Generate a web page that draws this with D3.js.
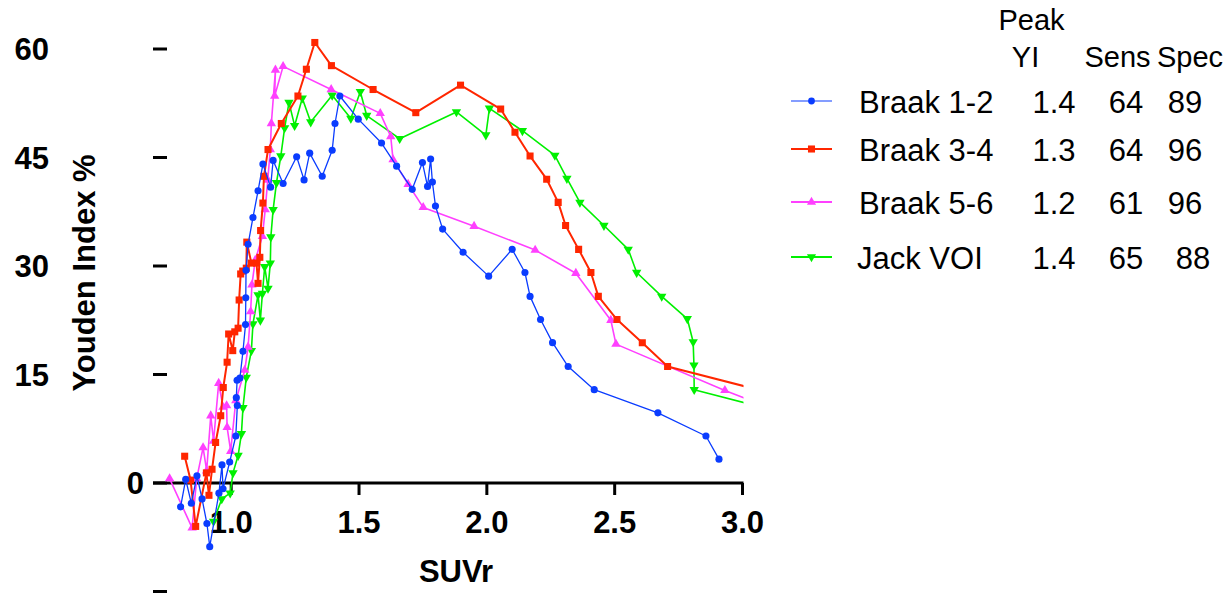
<!DOCTYPE html>
<html>
<head>
<meta charset="utf-8">
<script src="https://cdn.jsdelivr.net/npm/d3@7/dist/d3.min.js"></script>
<style>
  html, body { margin: 0; padding: 0; background: #fff; }
  svg { display: block; }
  text { font-family: "Liberation Sans", Arial, sans-serif; fill: #000; }
</style>
</head>
<body>
<svg id="chart" width="1231" height="595"></svg>
<script>
// ---------------- data ----------------
const suvrTicks = [1.0, 1.5, 2.0, 2.5, 3.0];
const suvrTickLabels = ["1.0", "1.5", "2.0", "2.5", "3.0"];
const yTicks = [60, 45, 30, 15, 0, -15];
const yTickLabels = ["60", "45", "30", "15", "0", ""];

const seriesNames = ["Braak 1-2", "Braak 3-4", "Braak 5-6", "Jack VOI"];
const peakYI = ["1.4", "1.3", "1.2", "1.4"];
const sensVals = ["64", "64", "61", "65"];
const specVals = ["89", "96", "96", "88"];

const braak12X = [0.804,0.824,0.846,0.868,0.888,0.907,0.918,0.954,0.966,0.970,0.996,1.020,1.026,1.022,1.025,1.036,1.048,1.058,1.059,1.060,1.068,1.087,1.107,1.126,1.156,1.166,1.205,1.258,1.287,1.309,1.358,1.397,1.408,1.427,1.499,1.590,1.649,1.710,1.750,1.770,1.782,1.789,1.801,1.829,1.909,2.009,2.101,2.151,2.171,2.212,2.259,2.320,2.422,2.671,2.859,2.910];
const braak12Y = [-3.3,0.5,-2.8,1.0,-2.2,-5.6,-8.8,-1.4,2.5,-0.8,2.9,6.5,10.7,11.8,14.2,14.5,18.2,21.9,25.6,29.4,33.0,36.7,40.4,44.1,40.9,44.6,41.4,45.1,41.9,45.6,42.4,46.0,49.7,53.5,50.3,47.0,43.8,40.6,44.3,41.0,44.8,41.6,38.3,35.1,31.9,28.6,32.3,29.1,25.8,22.6,19.4,16.1,12.9,9.7,6.5,3.3];

const braak34X = [0.820,0.843,0.863,0.905,0.915,0.927,0.941,0.961,0.971,0.986,0.992,1.008,1.016,1.029,1.033,1.039,1.047,1.061,1.063,1.081,1.101,1.107,1.114,1.117,1.126,1.130,1.146,1.198,1.263,1.296,1.329,1.394,1.557,1.724,1.899,2.056,2.112,2.171,2.236,2.281,2.310,2.361,2.409,2.438,2.511,2.610,2.709,3.250];
const braak34Y = [3.7,0.4,-6.0,1.4,-1.7,1.9,5.6,9.3,13.2,16.7,20.6,18.3,20.9,21.4,25.3,28.9,29.3,29.7,33.3,30.4,30.4,27.6,31.2,34.9,38.7,42.4,46.1,49.7,53.5,57.2,60.9,57.7,54.4,51.2,55.0,51.7,48.5,45.2,42.0,38.8,35.6,32.3,29.1,25.8,22.6,19.4,16.1,11.2];

const braak56X = [0.761,0.849,0.867,0.892,0.906,0.922,0.933,0.953,0.970,0.984,0.986,1.000,1.020,1.055,1.068,1.078,1.083,1.096,1.124,1.135,1.145,1.155,1.159,1.175,1.172,1.205,1.393,1.585,1.626,1.635,1.694,1.753,1.952,2.191,2.350,2.487,2.507,2.933,3.100];
const braak56Y = [0.6,-6.2,0.6,4.9,1.7,9.3,5.8,13.8,10.5,10.7,7.7,4.4,11.4,15.6,18.8,23.7,27.4,30.8,34.1,37.8,41.9,46.1,49.7,57.1,53.5,57.6,54.4,51.1,47.9,44.7,41.3,38.1,35.5,32.2,29.0,22.5,19.2,12.8,10.5];

const jackX = [0.933,0.965,0.998,1.009,1.029,1.042,1.048,1.061,1.081,1.087,1.107,1.116,1.124,1.133,1.146,1.155,1.157,1.166,1.179,1.196,1.211,1.228,1.250,1.280,1.313,1.397,1.470,1.507,1.532,1.661,1.883,1.998,2.012,2.141,2.268,2.315,2.366,2.460,2.555,2.588,2.686,2.786,2.809,2.812,2.813,3.150];
const jackY = [-5.3,-2.2,-1.4,1.4,3.8,6.8,10.4,14.6,18.3,22.0,26.0,22.5,26.2,29.9,26.9,30.4,34.0,37.8,41.5,45.2,49.1,52.6,49.4,53.2,49.9,53.6,50.4,54.1,50.8,47.6,51.3,48.1,51.8,48.7,45.3,42.1,38.8,35.6,32.3,29.1,25.8,22.7,19.5,16.3,12.9,9.8];

const colors = ["#0A3CFF", "#FF2600", "#FF40FF", "#00F000"];
const lineWidths = [1.3, 2, 1.6, 1.6];
const symbolsList = [d3.symbolCircle, d3.symbolSquare, d3.symbolTriangle, d3.symbolTriangle];
const symbolSizes = [40, 50, 38, 38];
const symbolRot = [0, 0, 0, 180];

// ---------------- chart ----------------
const svg = d3.select("#chart");
const x = d3.scaleLinear().domain([0.7, 3.0]).range([154, 742]);
const y = d3.scaleLinear().domain([-15, 60]).range([591.5, 49]);
const font = '"Liberation Sans", Arial, sans-serif';

svg.append("defs").append("clipPath").attr("id", "clip")
  .append("rect").attr("x", 0).attr("y", 0).attr("width", 743.5).attr("height", 595);

// x axis (at y = 0)
const xAxis = d3.axisBottom(x).tickValues(suvrTicks)
  .tickFormat((d, i) => suvrTickLabels[i]).tickSize(12).tickSizeOuter(0);
const gx = svg.append("g").attr("transform", `translate(0,${y(0)})`).call(xAxis);
gx.select(".domain").attr("stroke", "#000").attr("stroke-width", 3)
  .attr("d", `M${x(0.7) - 1},0H${x(3.0) + 1.5}`);
gx.selectAll(".tick line").attr("stroke", "#000").attr("stroke-width", 3);
gx.selectAll(".tick text").attr("font-family", font).attr("font-size", 31)
  .attr("font-weight", "bold").attr("fill", "#000").attr("y", 50).attr("dy", 0);

// y ticks (no axis line)
const gy = svg.append("g");
gy.selectAll("line").data(yTicks).join("line")
  .attr("x1", 153).attr("x2", 167)
  .attr("y1", d => y(d)).attr("y2", d => y(d))
  .attr("stroke", "#000").attr("stroke-width", 3);
gy.selectAll("text").data(yTicks).join("text")
  .attr("x", d => d === 0 ? 144 : 49)
  .attr("y", d => y(d) + 11)
  .attr("text-anchor", "end").attr("font-size", 31).attr("font-weight", "bold")
  .text((d, i) => yTickLabels[i]);

// axis titles
svg.append("text").attr("x", 456).attr("y", 582).attr("text-anchor", "middle")
  .attr("font-size", 31).attr("font-weight", "bold").text("SUVr");
svg.append("text").attr("transform", "translate(95,273) rotate(-90)")
  .attr("text-anchor", "middle").attr("font-size", 31).attr("font-weight", "bold")
  .text("Youden Index %");

// series
const allSeries = [
  d3.zip(braak12X, braak12Y),
  d3.zip(braak34X, braak34Y),
  d3.zip(braak56X, braak56Y),
  d3.zip(jackX, jackY)
];
const line = d3.line().x(d => x(d[0])).y(d => y(d[1]));
const plot = svg.append("g").attr("clip-path", "url(#clip)");
const drawOrder = [3, 2, 1, 0];
drawOrder.forEach(i => {
  const g = plot.append("g");
  g.append("path").datum(allSeries[i]).attr("d", line)
    .attr("fill", "none").attr("stroke", colors[i]).attr("stroke-width", lineWidths[i])
    .attr("stroke-linejoin", "round");
  g.selectAll("path.m").data(allSeries[i]).join("path").attr("class", "m")
    .attr("d", d3.symbol().type(symbolsList[i]).size(symbolSizes[i]))
    .attr("transform", d => `translate(${x(d[0])},${y(d[1])}) rotate(${symbolRot[i]})`)
    .attr("fill", colors[i]);
});

// legend
const legendRowsY = [101, 149, 202, 257];
svg.append("text").attr("x", 1031.5).attr("y", 30).attr("text-anchor", "middle")
  .attr("font-size", 29).text("Peak");
svg.append("text").attr("x", 1025.5).attr("y", 66.5).attr("text-anchor", "middle")
  .attr("font-size", 29).text("YI");
svg.append("text").attr("x", 1117.5).attr("y", 66.5).attr("text-anchor", "middle").attr("font-size", 29).text("Sens");
svg.append("text").attr("x", 1190).attr("y", 66.5).attr("text-anchor", "middle").attr("font-size", 29).text("Spec");

const legend = svg.append("g");
seriesNames.forEach((name, i) => {
  const cy = legendRowsY[i];
  legend.append("line").attr("x1", 791).attr("x2", 832).attr("y1", cy).attr("y2", cy)
    .attr("stroke", colors[i]).attr("stroke-width", i === 0 ? 1.2 : 2);
  legend.append("path").attr("d", d3.symbol().type(symbolsList[i]).size(i === 1 ? 50 : 36)())
    .attr("transform", `translate(811.5,${cy}) rotate(${symbolRot[i]})`).attr("fill", colors[i]);
  legend.append("text").attr("x", i === 3 ? 857 : 859).attr("y", cy + 12).attr("font-size", 31).text(name);
  legend.append("text").attr("x", 1054).attr("y", cy + 12).attr("text-anchor", "middle").attr("font-size", 31).text(peakYI[i]);
  legend.append("text").attr("x", 1126).attr("y", cy + 12).attr("text-anchor", "middle").attr("font-size", 31).text(sensVals[i]);
  legend.append("text").attr("x", i === 3 ? 1193 : 1185).attr("y", cy + 12).attr("text-anchor", "middle").attr("font-size", 31).text(specVals[i]);
});
</script>
</body>
</html>
